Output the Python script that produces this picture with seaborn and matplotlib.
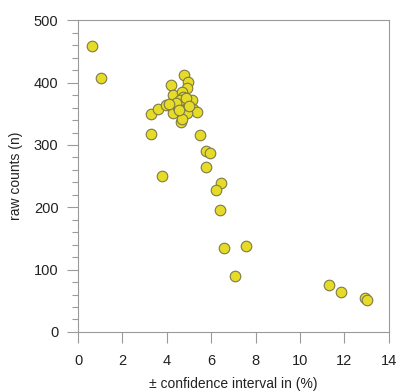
import matplotlib
matplotlib.use("Agg")
import matplotlib.pyplot as plt
import seaborn as sns
import pandas as pd
from matplotlib.ticker import MultipleLocator

ci_percent = [0.64, 1.05, 4.79, 4.17, 4.97, 4.90, 4.70, 4.29, 3.29, 3.62,
              3.96, 4.29, 4.62, 4.97, 5.12, 5.19, 5.34, 4.92, 4.66, 4.68,
              4.67, 4.74, 4.74, 4.52, 4.60, 3.29, 5.48, 5.75, 5.93, 5.77,
              3.80, 6.43, 6.20, 6.38, 6.58, 7.55, 7.09, 11.29, 11.83, 12.93,
              13.00, 4.42, 4.85, 5.02, 4.55, 4.10]
raw_counts = [459, 407, 413, 397, 401, 391, 383, 380, 350, 357,
              364, 351, 372, 369, 372, 358, 353, 352, 337, 341,
              385, 377, 364, 361, 372, 318, 316, 291, 287, 265,
              251, 239, 227, 196, 135, 138, 89, 76, 64, 54,
              52, 368, 375, 362, 356, 366]
x_ticks = [0, 2, 4, 6, 8, 10, 12, 14]
y_ticks = [0, 100, 200, 300, 400, 500]

df = pd.DataFrame({"ci": ci_percent, "n": raw_counts})

sns.set_style("white")
plt.rcParams["font.family"] = ["Liberation Sans", "DejaVu Sans"]

fig = plt.figure(figsize=(3.98, 3.91), dpi=100)
ax = fig.add_axes([0.196, 0.151, 0.781, 0.797])

sns.scatterplot(data=df, x="ci", y="n", ax=ax, s=58, color="#e6dc28",
                edgecolor="#7d7a48", linewidth=0.8, legend=False, zorder=3)

ax.set_xlim(0, 14)
ax.set_ylim(0, 500)
ax.set_xticks(x_ticks)
ax.set_yticks(y_ticks)
ax.yaxis.set_minor_locator(MultipleLocator(20))

grey = "#9a9a9a"
for sp in ax.spines.values():
    sp.set_color(grey)
    sp.set_linewidth(0.8)

ax.tick_params(axis="both", which="major", direction="out", length=8,
               width=0.8, color=grey, labelsize=10.5, pad=6,
               bottom=True, left=True, labelcolor="#222222")
ax.tick_params(axis="x", which="major", pad=8)
ax.tick_params(axis="y", which="minor", direction="out", length=4,
               width=0.8, color=grey, left=True)

ax.set_xlabel("± confidence interval in (%)", fontsize=10, color="#222222", labelpad=6)
ax.set_ylabel("raw counts (n)", fontsize=10, color="#222222", labelpad=8)

fig.savefig("out.png", dpi=100)
